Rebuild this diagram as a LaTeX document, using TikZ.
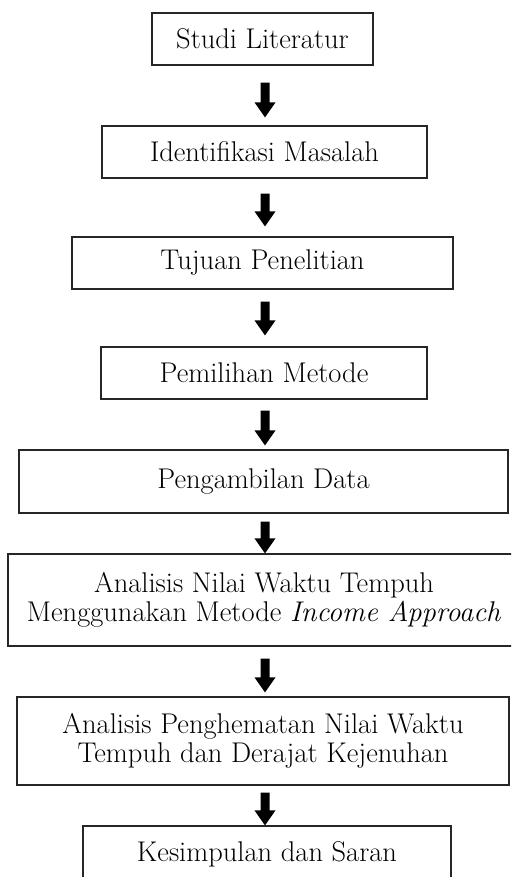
\documentclass[tikz,border=0pt]{standalone}
\usetikzlibrary{calc}
\begin{document}
\begin{tikzpicture}[x=1pt,y=1pt,
  box/.style={draw=black!85, line width=1.2pt, inner sep=0pt, align=center,
    font=\fontsize{28.5}{28.5}\selectfont, text=black},
  arrowfill/.style={fill=black}]
\newcommand\fatarrow[4]{%
  \path ($(#1.south -| ax)+(0,-#3)$) coordinate (s) ($(#2.north -| ax)+(0,#4)$) coordinate (e);
  \fill[arrowfill] ($(s)+(-4.5,0)$) -- ($(s)+(4.5,0)$) -- ($(e)+(4.5,15)$) -- ($(e)+(10.5,15)$)
    -- (e) -- ($(e)+(-10.5,15)$) -- ($(e)+(-4.5,15)$) -- cycle;}
\useasboundingbox (0,0) rectangle (511,-877);
\clip (0,0) rectangle (511,-877);
\coordinate (ax) at (265,0);
\node[box, minimum width=221pt, minimum height=52pt] (b1) at (262.5,-39) {Studi Literatur};
\node[box, minimum width=325pt, minimum height=52pt] (b2) at (264.5,-152) {Identifikasi Masalah};
\node[box, minimum width=381pt, minimum height=52pt] (b3) at (262.5,-263) {Tujuan Penelitian};
\node[box, minimum width=326pt, minimum height=52pt] (b4) at (264,-373) {Pemilihan Metode};
\node[box, minimum width=489pt, minimum height=63pt] (b5) at (263.5,-481.5) {Pengambilan Data};
\node[box, minimum width=512pt, minimum height=92pt] (b6) at (264,-600) {Analisis Nilai Waktu Tempuh\\Menggunakan Metode \textit{Income Approach}};
\node[box, minimum width=492pt, minimum height=88pt] (b7) at (263,-741) {Analisis Penghematan Nilai Waktu\\Tempuh dan Derajat Kejenuhan};
\node[box, minimum width=368pt, minimum height=56pt] (b8) at (267,-854) {Kesimpulan dan Saran};
\fatarrow{b1}{b2}{17}{8}
\fatarrow{b2}{b3}{15}{10}
\fatarrow{b3}{b4}{12}{11}
\fatarrow{b4}{b5}{11}{4}
\fatarrow{b5}{b6}{8}{0}
\fatarrow{b6}{b7}{12}{4}
\fatarrow{b7}{b8}{7}{0}
\end{tikzpicture}
\end{document}
